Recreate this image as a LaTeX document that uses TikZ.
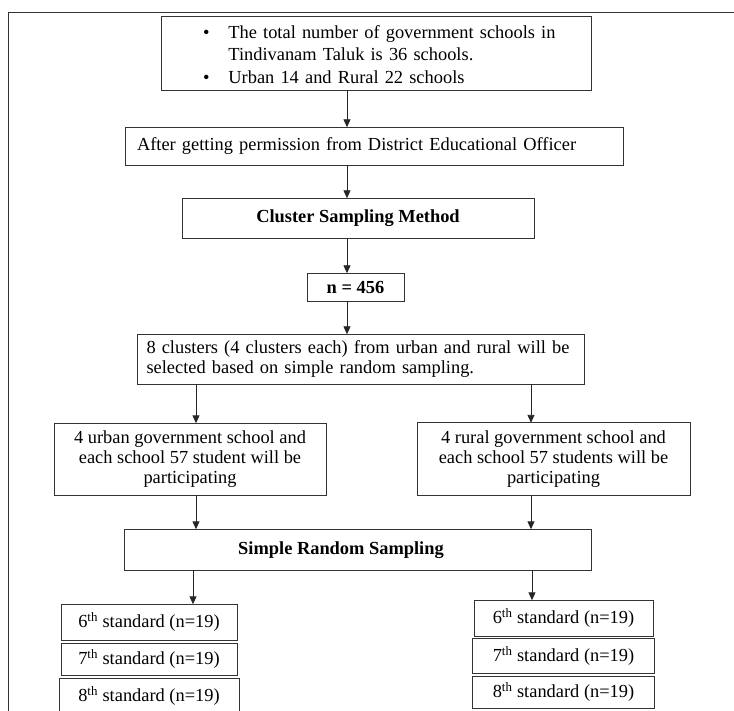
\documentclass[tikz,border=0pt]{standalone}
\usepackage{fontspec}
\setmainfont{Liberation Serif}
\usetikzlibrary{positioning, arrows.meta}
\tikzset{
>={Triangle[length=8pt, width=7pt]}, % filled arrow heads
box/.style={draw=black!80, line width=1pt, outer sep=0pt, inner xsep=6pt, inner ysep=2pt, font=\fontsize{18.4}{20}\selectfont}, % every framed box
bold/.style={box, font=\fontsize{18.4}{20}\selectfont\bfseries}, % the method boxes
stdbox/.style={box, minimum width=176pt, minimum height=36pt}, % the class boxes at the bottom
link/.style={->, draw=black!85, line width=0.9pt}, % the arrows between boxes
}

\begin{document}
\begin{tikzpicture}
    \useasboundingbox (0pt,0pt) rectangle (734pt,-711pt);
    \coordinate (frameSW) at (8pt,-711pt);
    \coordinate (frameNE) at (734pt,-13pt);
    \draw[black!80, line width=1pt] (frameSW) |- (frameNE);

    \node[box, text width=418pt, minimum height=73pt, inner ysep=0pt, align=left, font=\fontsize{18.4}{22}\selectfont] (facts) at (376pt,-53.5pt) {%
      \begin{tabular}{@{\hspace{36pt}}c@{\hspace{19pt}}l@{}}
        \rule{0pt}{22pt}\textbullet & The total number of government schools in\\
                    & Tindivanam Taluk is 36 schools.\\[1pt]
        \textbullet & Urban 14 and Rural 22 schools
      \end{tabular}};
    \node[box, below=37pt of facts, xshift=-2pt, text width=474pt, inner xsep=12pt, minimum height=38pt, align=left] (perm) {After getting permission from District Educational Officer};
    \node[bold, below=33pt of perm, xshift=-16pt, minimum width=352pt, minimum height=40pt] (cluster) {Cluster Sampling Method};
    \node[bold, below=35pt of cluster, xshift=-2.5pt, minimum width=97pt, minimum height=28pt] (size) {n = 456};
    \node[box, below=33pt of size, xshift=5pt, text width=428pt, inner xsep=9.5pt, minimum height=50pt, align=left] (choice) {8 clusters (4 clusters each) from urban and rural will be\\ selected based on simple random sampling.};
    \node[box, below=39pt of choice, xshift=-170.5pt, minimum width=272pt, minimum height=72pt, align=center] (urban) {4 urban government school and\\ each school 57 student will be\\ participating};
    \node[box, right=91pt of urban, minimum width=273pt, minimum height=73pt, align=center] (rural) {4 rural government school and\\ each school 57 students will be\\ participating};
    \node[bold, below=34pt of urban, xshift=167.5pt, minimum width=467pt, minimum height=41pt] (srs) {\hspace*{-33pt}Simple Random Sampling};

    \node[stdbox, below=34pt of srs, xshift=-208.5pt] (u6) {6\textsuperscript{th} standard (n=19)};
    \node[stdbox, below=3pt of u6, minimum height=32pt] (u7) {7\textsuperscript{th} standard (n=19)};
    \node[stdbox, below=3pt of u7, minimum width=180pt] (u8) {8\textsuperscript{th} standard (n=19)};
    \node[stdbox, below=30pt of srs, xshift=206pt, minimum width=179pt] (r6) {6\textsuperscript{th} standard (n=19)};
    \node[stdbox, below=2pt of r6, minimum width=182pt, minimum height=35pt] (r7) {7\textsuperscript{th} standard (n=19)};
    \node[stdbox, below=3pt of r7, minimum width=182pt, minimum height=32pt] (r8) {8\textsuperscript{th} standard (n=19)};

    % columns that the arrows run along
    \coordinate (spine) at (347pt,0pt);
    \coordinate (lcol) at (196pt,0pt);
    \coordinate (rcol) at (531pt,0pt);
    \coordinate (lleaf) at (193pt,0pt);
    \coordinate (rleaf) at (532pt,0pt);
    \foreach \from/\to/\col in {facts/perm/spine, perm/cluster/spine, cluster/size/spine, size/choice/spine,
      choice/urban/lcol, choice/rural/rcol, urban/srs/lcol, rural/srs/rcol, srs/u6/lleaf, srs/r6/rleaf}
      \draw[link] (\from.south -| \col) -- (\to.north -| \col);
\end{tikzpicture}
\end{document}
